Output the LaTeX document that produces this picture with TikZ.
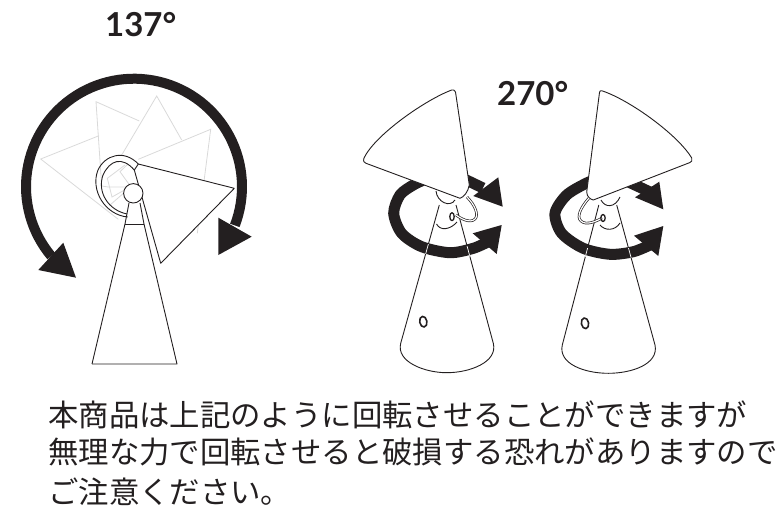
\documentclass[tikz,border=0pt]{standalone}
\usepackage{fontspec}
\setmainfont{Lato}
\newfontfamily\jpfont{Noto Sans CJK JP}
\definecolor{ink}{HTML}{231F20}
\definecolor{ghost}{HTML}{D9D9D9}
\tikzset{
  outline/.style={draw=ink,line width=0.9pt,line join=round},
  shade/.style={outline,fill=white},
  ghostline/.style={draw=ghost,line width=0.8pt},
  sweep/.style={draw=ink,line width=10pt},
  sweepsmall/.style={draw=ink,line width=11pt},
  head/.style={fill=ink},
  crossline/.style={white,line width=0.7pt},
  oval/.style={outline,line width=1.6pt},
  deg/.style={font=\fontsize{33}{33}\selectfont\bfseries,text=ink,inner sep=0pt},
  jp/.style={font=\jpfont\fontsize{30.4}{30.4}\selectfont,text=ink,inner sep=0pt,anchor=base west}
}
\begin{document}
\begin{tikzpicture}[x=1pt,y=-1pt]
\useasboundingbox (0,0) rectangle (780,509);
% ---------- left figure ----------
\draw[ghostline] (99,135.7) -- (40.7,159) -- (118.3,219.3);
\draw[ghostline] (139.3,121) -- (96,101.7) -- (101.7,186) -- (108,187) -- (130,187);
\draw[ghostline] (121.7,155) -- (156.7,96) -- (181.7,140);
\draw[ghostline] (138.3,159.3) -- (210.7,129.3) -- (197.3,233.3);
\draw[ghostline] (125,165) -- (107.3,178.3) -- (112,197) -- (130,187);
\draw[ghostline] (128,164) -- (120,171.7) -- (131,187);
\draw[ghostline] (110,205) -- (125,192);
\draw[sweep] plot[samples=80,domain=140:381] ({134+108*cos(\x)},{186.7+108*sin(\x)});
\fill[head] (38.3,270) -- (63.3,242.7) -- (76,277.7) -- cycle;
\fill[head] (218.3,217.7) -- (251.7,236.7) -- (218.3,255) -- cycle;
\draw[outline] (92,364) -- (177,364) -- (144,224) -- (140,203);
\draw[outline] (92,364) -- (125,224) -- (129,203);
\draw[outline] (125,224) -- (144,224);
\draw[shade] (138.3,164) -- (234.3,188.3) -- (160.7,263.3) -- (134.3,170) -- cycle;
\draw[outline] (138.3,164) .. controls (124,149) and (105,155) .. (98,170)
  .. controls (90,190) and (105,215) .. (127.7,217);
\draw[outline] (134.3,170) .. controls (122,156) and (110,160) .. (103,175)
  .. controls (97,192) and (108,210) .. (127,214);
\draw[shade] (133.3,193.3) circle[radius=9.7];
% ---------- middle figure ----------
\draw[outline] (439.3,205) -- (400.7,343.3) .. controls (396,362) and (425,372.7) .. (446.7,372.7)
  .. controls (470,372.7) and (498,362) .. (493.3,343.3) -- (456,205);
\draw[oval,rotate around={10:(423.3,321.7)}] (423.3,321.7) ellipse[x radius=3.6,y radius=5.4];
\draw[outline] (436.6,224) .. controls (440,231) and (450,230) .. (457,222);
\draw[sweepsmall] plot[smooth] coordinates {(428,178) (413.3,185) (400,195) (393.7,213.3) (401.7,233.3) (421.7,246.7) (450,252.7) (473.3,248.3) (488.3,241.7)};
\draw[sweepsmall] (458,176) -- (483,188);
\fill[head] (472.7,233.3) -- (501.7,225) -- (496.7,254) -- cycle;
\fill[head] (498.3,177.3) -- (502.7,206.7) -- (473.3,196) -- cycle;
\begin{scope}
\clip (420,244) rectangle (440,253);
\draw[crossline] (439.3,205) -- (400.7,343.3);
\end{scope}
\begin{scope}
\clip (455,246) rectangle (480,256);
\draw[crossline] (456,205) -- (493.3,343.3);
\end{scope}
\draw[outline] (436,191) .. controls (437,202) and (450,208) .. (455,200);
\draw[shade] (451.7,90) .. controls (425,100) and (375,135) .. (364,158)
  .. controls (363,161) and (364,163) .. (366,163.3) -- (460,198.3)
  .. controls (464,197) and (468,192) .. (469.3,185) -- (455.5,92)
  .. controls (455,90) and (453,89.5) .. (451.7,90) -- cycle;
\draw[draw=ink,line width=2.6pt] (467,197) .. controls (475,205) and (479,215) .. (475,219) .. controls (470,224) and (460,218) .. (456,215);
\draw[draw=white,line width=1.2pt] (467,197) .. controls (475,205) and (479,215) .. (475,219) .. controls (470,224) and (460,218) .. (456,215);
\draw[oval,line width=1.3pt] (452,216.7) ellipse[x radius=2.2,y radius=4];
% ---------- right figure ----------
\draw[outline] (598.8,205) -- (562.3,345) .. controls (558,364) and (585,373.3) .. (608.3,373.3)
  .. controls (632,373.3) and (659,364) .. (655,345) -- (616.7,205);
\draw[oval,rotate around={10:(585,323.3)}] (585,323.3) ellipse[x radius=3.6,y radius=5.4];
\draw[outline] (600,225) .. controls (605,231) and (615,231) .. (620,223);
\draw[sweepsmall] plot[smooth] coordinates {(600,178) (586.7,183) (566.7,195) (555,213.3) (561.7,233.3) (583.3,248.3) (610,254.3) (633.3,251.7) (650,245)};
\draw[sweepsmall] (620,178) -- (650,192);
\fill[head] (634,235.7) -- (663.3,226) -- (658.3,256) -- cycle;
\fill[head] (659.3,181.7) -- (663.3,209.3) -- (635,197.3) -- cycle;
\begin{scope}
\clip (580,248) rectangle (598,256);
\draw[crossline] (598.8,205) -- (562.3,345);
\end{scope}
\begin{scope}
\clip (615,248) rectangle (640,257);
\draw[crossline] (616.7,205) -- (655,345);
\end{scope}
\draw[outline] (601,200) .. controls (605,208) and (615,208) .. (620,197);
\draw[shade] (601.7,90.7) .. controls (630,100) and (678,135) .. (691.7,158)
  .. controls (692.5,160.5) and (691.5,162) .. (690,162.5) -- (593.3,200)
  .. controls (590,199) and (587,197) .. (586.7,192) -- (599.5,92.5)
  .. controls (599.7,91) and (600.5,90.5) .. (601.7,90.7) -- cycle;
\draw[draw=ink,line width=2.6pt] (589,198) .. controls (581,207) and (576,217) .. (581,221) .. controls (586,226) and (597,221) .. (602,218);
\draw[draw=white,line width=1.2pt] (589,198) .. controls (581,207) and (576,217) .. (581,221) .. controls (586,226) and (597,221) .. (602,218);
\draw[oval,line width=1.3pt] (603,218) ellipse[x radius=2.2,y radius=3.5];
% ---------- text ----------
\node[deg,anchor=base west] (a137) at (105,36) {137°};
\node[deg,anchor=base west] (a270) at (497,105) {270°};
\node[jp] (l1) at (48,426) {本商品は上記のように回転させることができますが};
\node[jp] (l2) at (48,463) {無理な力で回転させると破損する恐れがありますので};
\node[jp] (l3) at (48,503) {ご注意ください。};
\end{tikzpicture}
\end{document}
